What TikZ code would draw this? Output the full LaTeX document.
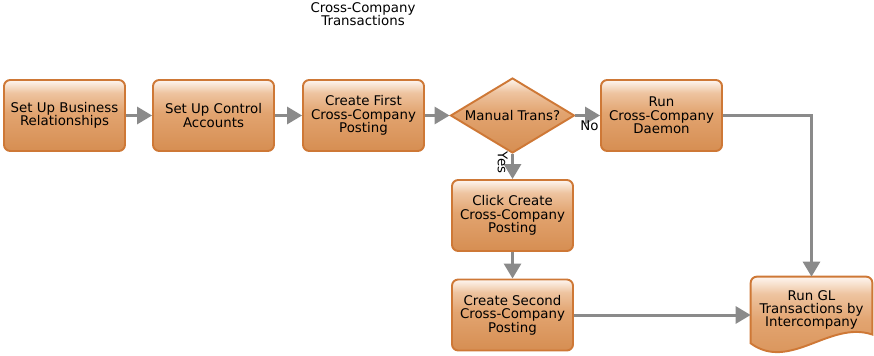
\documentclass[tikz,border=0pt]{standalone}
\usepackage{fontspec}
\setmainfont{DejaVu Sans}
\usetikzlibrary{arrows.meta, shapes.geometric, backgrounds}

\definecolor{boxline}{RGB}{206,120,54}
\definecolor{boxtop}{RGB}{254,246,240}
\definecolor{boxlight}{RGB}{238,196,160}
\definecolor{boxmid}{RGB}{226,164,112}
\definecolor{boxbot}{RGB}{214,142,82}
\definecolor{flowgray}{RGB}{138,138,138}

\pgfdeclareverticalshading{orangebox}{100bp}{color(0bp)=(boxbot); color(25bp)=(boxbot);
  color(52bp)=(boxmid); color(66bp)=(boxlight); color(75bp)=(boxtop); color(100bp)=(boxtop)}

\begin{document}
\begin{tikzpicture}[x=0.02cm, y=-0.02cm, >={Triangle[length=3mm, width=3.4mm]},
  every node/.style={font=\fontsize{7.6}{7.6}\selectfont, align=center, inner sep=1pt},
  boxfill/.style={draw=boxline, line width=1.1pt, shading=orangebox},
  stepbox/.style={boxfill, rounded corners=3.5pt, minimum width=2.42cm, minimum height=1.42cm},
  decision/.style={boxfill, diamond, aspect=1.65, inner sep=0pt, minimum width=2.48cm, minimum height=1.5cm},
  flow/.style={->, draw=flowgray, line width=1.7pt}]
  \useasboundingbox (0,0) rectangle (874,355);

  \node (title) at (363,14) {Cross-Company\\Transactions};

  \node[stepbox] (setupbiz) at (64.5,115.5) {Set Up Business\\Relationships};
  \node[stepbox] (setupctrl) at (213.5,115.5) {Set Up Control\\Accounts};
  \node[stepbox] (firstpost) at (363.5,115.5) {Create First\\Cross-Company\\Posting};
  \node[decision] (manual) at (512.5,115.5) {Manual Trans?};
  \node[stepbox] (daemon) at (661.5,115.5) {Run\\Cross-Company\\Daemon};
  \node[stepbox] (clickpost) at (512.5,215.5) {Click Create\\Cross-Company\\Posting};
  \node[stepbox] (secondpost) at (512.5,315) {Create Second\\Cross-Company\\Posting};

  % document shape with a wavy bottom
  \node[minimum width=2.42cm, minimum height=1.32cm] (rungl) at (811.5,310) {Run GL\\Transactions by\\Intercompany};
  \begin{pgfonlayer}{background}
    \path[boxfill] (rungl.south west) -- ([yshift=-3.5pt]rungl.north west) arc[start angle=180, end angle=90, radius=3.5pt]
      -- ([xshift=-3.5pt]rungl.north east) arc[start angle=90, end angle=0, radius=3.5pt]
      -- ([yshift=5pt]rungl.south east) .. controls (830,320) and (790,372) .. (rungl.south west) -- cycle;
  \end{pgfonlayer}

  \draw[flow] (setupbiz) -- (setupctrl);
  \draw[flow] (setupctrl) -- (firstpost);
  \draw[flow] (firstpost) -- (manual);
  \draw[flow] (manual) -- (daemon) node[at start, anchor=north west, inner sep=2pt] {No};
  \draw[flow] (manual) -- (clickpost) node[pos=0.35, anchor=north, rotate=-90, inner sep=2pt] {Yes};
  \draw[flow] (clickpost) -- (secondpost);
  \draw[flow] (daemon.east) -| (rungl.north);
  \draw[flow] (secondpost.east) -- (secondpost.east -| rungl.west);
\end{tikzpicture}
\end{document}
